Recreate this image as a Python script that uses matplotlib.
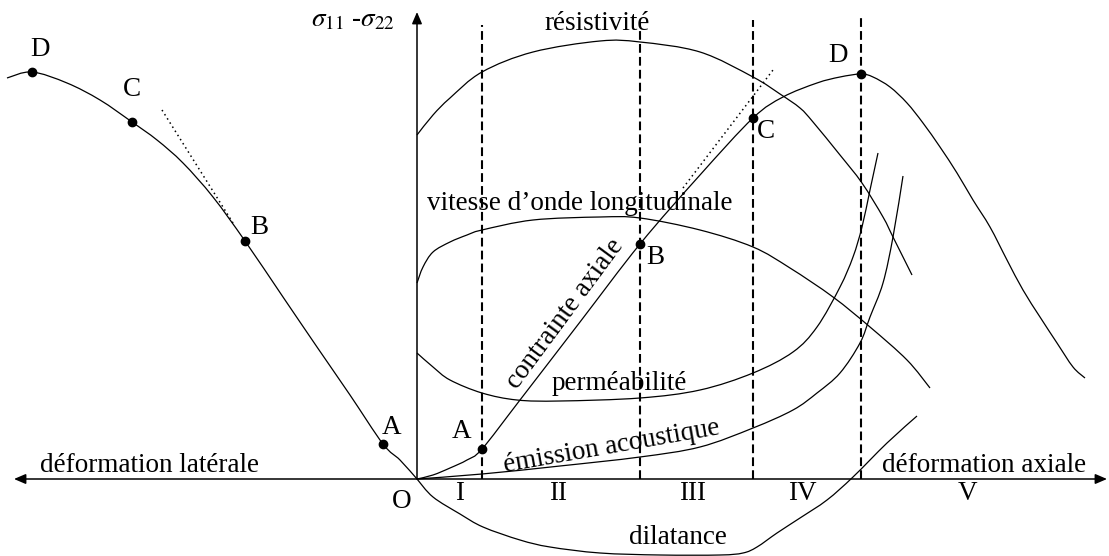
import numpy as np
import matplotlib
matplotlib.use("Agg")
import matplotlib.pyplot as plt
from matplotlib.path import Path
from matplotlib.patches import PathPatch

plt.rcParams['font.family'] = ['Liberation Serif', 'DejaVu Serif']
plt.rcParams['mathtext.fontset'] = 'stix'

# origin O of the diagram, in picture units (x to the right, y downwards)
x0, y0 = 417, 479

# courbe contrainte axiale (right) : O, A, B, C, D then post-peak
axial_x = [417, 433, 450, 467, 482, 520, 580, 640, 700, 753, 783, 817, 840, 861,
           873, 890, 907, 923, 940, 957, 973, 990, 1007, 1023, 1040, 1057, 1073, 1085]
axial_y = [479, 475, 468, 460, 449, 400, 322, 244, 175, 118, 97, 83, 77, 74,
           77, 87, 103, 123, 147, 173, 200, 227, 260, 290, 317, 343, 367, 378]
axial_pts = [4, 7, 9, 13]             # indices of A, B, C, D

# courbe déformation latérale (left)
lat_x = [417, 400, 383, 350, 317, 283, 245, 213, 183, 157, 132, 100, 67, 32, 7]
lat_y = [479, 460, 444, 395, 347, 297, 241, 197, 163, 140, 122, 100, 83, 72, 78]
lat_pts = [2, 6, 10, 13]              # A, B, C, D

resist_x = [417, 433, 450, 482, 533, 600, 640, 700, 753, 780, 800, 813, 840, 862, 883, 893, 912]
resist_y = [135, 115, 98, 72, 52, 41, 42, 52, 77, 94, 108, 122, 155, 183, 217, 237, 275]

vitesse_x = [417, 423, 433, 450, 467, 482, 533, 600, 640, 700, 753, 790, 833, 870, 907, 930]
vitesse_y = [283, 267, 252, 242, 235, 230, 220, 217, 218, 230, 247, 268, 297, 327, 360, 388]

perm_x = [417, 433, 450, 482, 517, 560, 640, 700, 753, 793, 817, 840, 853, 862, 870, 878]
perm_y = [353, 367, 380, 393, 400, 401, 398, 390, 373, 352, 327, 287, 257, 227, 190, 153]

emis_x = [417, 482, 560, 640, 700, 753, 793, 817, 840, 860, 870, 883, 893, 903]
emis_y = [479, 474, 466, 457, 447, 428, 410, 393, 373, 343, 317, 283, 237, 176]

dilat_x = [417, 433, 460, 483, 520, 550, 600, 660, 720, 743, 757, 777, 800, 827, 853, 887, 917]
dilat_y = [479, 497, 514, 527, 540, 547, 553, 555, 555, 553, 547, 533, 518, 500, 477, 443, 416]

stage_x = [482, 640, 753, 861]
stage_top = [25, 22, 20, 15]
stages = ['I', 'II', 'III', 'IV', 'V']
stage_lbl_x = [460, 558, 693, 802, 968]
letters = ['A', 'B', 'C', 'D']


def X(v):
    return np.asarray(v, dtype=float) - x0


def Y(v):
    return y0 - np.asarray(v, dtype=float)


def curve(ax, xs, ys, **kw):
    # bezier path going through every read point (Catmull-Rom handles)
    p = np.column_stack([X(xs), Y(ys)])
    n = len(p)
    verts = [p[0]]
    codes = [Path.MOVETO]
    for i in range(n - 1):
        pm = p[i - 1] if i > 0 else p[i]
        pn = p[i + 2] if i + 2 < n else p[i + 1]
        c1 = p[i] + (p[i + 1] - pm) / 6.0
        c2 = p[i + 1] - (pn - p[i]) / 6.0
        verts += [c1, c2, p[i + 1]]
        codes += [Path.CURVE4] * 3
    ax.add_patch(PathPatch(Path(verts, codes), fill=False, **kw))


fig = plt.figure(figsize=(11.09, 5.56), dpi=100)
ax = fig.add_axes([0, 0, 1, 1])
ax.set_xlim(-x0, 1109 - x0)
ax.set_ylim(y0 - 556, y0)
ax.axis('off')

lw = 0.9
fs = 19.5

# axes with arrows
ax.annotate('', xy=(1107 - x0, 0), xytext=(14 - x0, 0),
            arrowprops=dict(arrowstyle='<|-|>,head_length=0.7,head_width=0.3',
                            lw=1.1, color='black', shrinkA=0, shrinkB=0))
ax.annotate('', xy=(0, y0 - 12), xytext=(0, 0),
            arrowprops=dict(arrowstyle='-|>,head_length=0.7,head_width=0.3',
                            lw=1.1, color='black', shrinkA=0, shrinkB=0))

# stage boundaries
for sx, st in zip(stage_x, stage_top):
    ax.plot([sx - x0, sx - x0], [0, y0 - st], color='black', lw=1.5,
            dashes=(4.2, 2.0))

# curves
for cx, cy in [(axial_x, axial_y), (lat_x, lat_y), (resist_x, resist_y),
               (vitesse_x, vitesse_y), (perm_x, perm_y), (emis_x, emis_y),
               (dilat_x, dilat_y)]:
    curve(ax, cx, cy, color='black', lw=lw)

# tangent (dotted) lines
ax.plot(X([683, 773]), Y([188, 70]), color='black', lw=1.1, ls=(0, (1, 2.2)))
ax.plot(X([162, 233]), Y([110, 223]), color='black', lw=1.1, ls=(0, (1, 2.2)))

# points A B C D
ax.plot(X([axial_x[i] for i in axial_pts]), Y([axial_y[i] for i in axial_pts]),
        'o', color='black', ms=6)
ax.plot(X([lat_x[i] for i in lat_pts]), Y([lat_y[i] for i in lat_pts]),
        'o', color='black', ms=6)

for l, (tx, ty) in zip(letters, [(462, 432), (655, 257), (766, 131), (838, 55)]):
    ax.text(tx - x0, y0 - ty, l, fontsize=fs, ha='center', va='center')
for l, (tx, ty) in zip(letters, [(392, 427), (259, 227), (132, 90), (40, 50)]):
    ax.text(tx - x0, y0 - ty, l, fontsize=fs, ha='center', va='center')

ax.text(402 - x0, y0 - 502, 'O', fontsize=fs, ha='center', va='center')
for s, sx in zip(stages, stage_lbl_x):
    ax.text(sx - x0, y0 - 493, s, fontsize=fs, ha='center', va='center')

ax.text(353 - x0, y0 - 20, r'$\sigma_{11}$ -$\sigma_{22}$', fontsize=fs,
        ha='center', va='center')
ax.text(597 - x0, y0 - 24, 'résistivité', fontsize=fs, ha='center', va='center')
ax.text(580 - x0, y0 - 204, 'vitesse d\u2019onde longitudinale', fontsize=fs,
        ha='center', va='center')
ax.text(565 - x0, y0 - 314, 'contrainte axiale', fontsize=fs, ha='center',
        va='center', rotation=53.5, rotation_mode='anchor')
ax.text(619 - x0, y0 - 384, 'perméabilité', fontsize=fs, ha='center', va='center')
ax.text(612 - x0, y0 - 447, 'émission acoustique', fontsize=fs, ha='center',
        va='center', rotation=10, rotation_mode='anchor')
ax.text(678 - x0, y0 - 538, 'dilatance', fontsize=fs, ha='center', va='center')
ax.text(149 - x0, y0 - 465, 'déformation latérale', fontsize=fs, ha='center',
        va='center')
ax.text(984 - x0, y0 - 465, 'déformation axiale', fontsize=fs, ha='center',
        va='center')

fig.savefig('out.png', dpi=100)
